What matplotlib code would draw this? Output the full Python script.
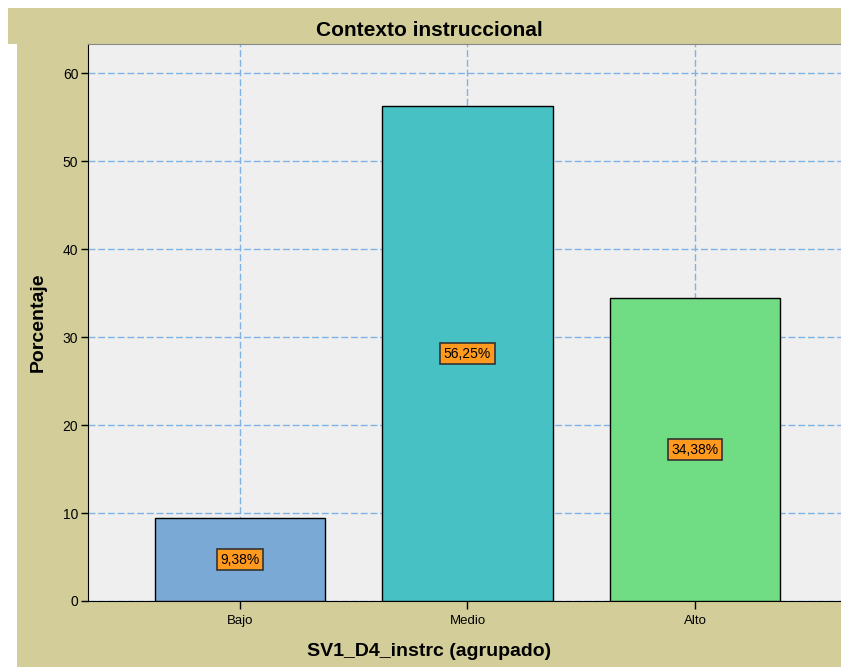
import matplotlib
matplotlib.use("Agg")
import matplotlib.pyplot as plt
from matplotlib.patches import Rectangle

categories = ["Bajo", "Medio", "Alto"]
values = [9.38, 56.25, 34.38]
labels = ["9,38%", "56,25%", "34,38%"]
colors = ["#7BA9D6", "#48C1C4", "#70DC84"]
yticks = [0, 10, 20, 30, 40, 50, 60]

plt.rcParams['font.family'] = ['Liberation Sans', 'DejaVu Sans']

W, H = 841, 667
fig = plt.figure(figsize=(W/100, H/100), dpi=100, facecolor="white")
tan = "#D3CE99"
# title bar
fig.patches.append(Rectangle((8/W, 1-44/H), 1-8/W, 36/H, transform=fig.transFigure,
                             facecolor=tan, edgecolor="none", zorder=-5))
# main panel
fig.patches.append(Rectangle((17/W, 0), 1-17/W, 1-44/H, transform=fig.transFigure,
                             facecolor=tan, edgecolor="none", zorder=-5))

ax = fig.add_axes([88/W, 1-601/H, 1-88/W, (601-44)/H])
ax.set_zorder(2)
ax.set_facecolor("#EFEFEF")
x = list(range(len(categories)))
ax.bar(x, values, width=0.75, color=colors, edgecolor="black", linewidth=1, zorder=3)
ax.set_xlim(-0.668, 2.642)
ax.set_ylim(0, 63.3)
ax.set_xticks(x)
ax.set_xticklabels(categories, fontsize=9.5)
ax.set_yticks(yticks)
ax.set_yticklabels([str(t) for t in yticks], fontsize=10)
ax.set_axisbelow(True)
for axis in (ax.xaxis, ax.yaxis):
    axis.grid(True, color="#7FB2E5", linestyle=(0, (5, 2)), linewidth=1.0, alpha=1.0)
ax.tick_params(axis='y', direction='out', length=5, width=1, pad=2)
ax.tick_params(axis='x', direction='out', length=6, width=1, pad=4)
ax.spines["right"].set_visible(False)
ax.spines["top"].set_color("#888888")
ax.spines["left"].set_color("black")
ax.spines["bottom"].set_color("black")

for xi, v, lab in zip(x, values, labels):
    ax.text(xi, v/2, lab, ha="center", va="center", fontsize=10, zorder=5,
            bbox=dict(boxstyle="square,pad=0.25", facecolor="#FF9A1F", edgecolor="#333333", linewidth=1.2))

fig.text((17+841)/2/W, 1-30/H, "Contexto instruccional", ha="center", va="center",
         fontsize=15, fontweight="bold")
fig.text((17+841)/2/W, 1-651/H, "SV1_D4_instrc (agrupado)", ha="center", va="center",
         fontsize=14, fontweight="bold")
fig.text(38/W, 1-322/H, "Porcentaje", ha="center", va="center", rotation=90,
         fontsize=14, fontweight="bold")

fig.savefig("out.png", dpi=100, facecolor=fig.get_facecolor())
